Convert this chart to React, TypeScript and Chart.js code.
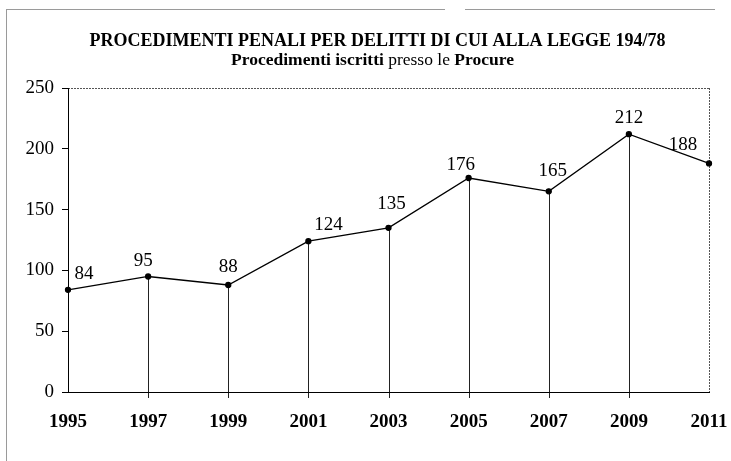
import React, { useEffect, useRef } from "react";
import { Chart, registerables } from "chart.js";

Chart.register(...registerables);

const years = ["1995", "1997", "1999", "2001", "2003", "2005", "2007", "2009", "2011"];
const procedimenti = [84, 95, 88, 124, 135, 176, 165, 212, 188];
const yTicks = [0, 50, 100, 150, 200, 250];

const TITLE = "PROCEDIMENTI PENALI PER DELITTI DI CUI ALLA LEGGE 194/78";
const SUBTITLE_PARTS: [string, boolean][] = [
  ["Procedimenti iscritti", true],
  [" presso le ", false],
  ["Procure", true],
];

const SERIF = "'Liberation Serif', 'Times New Roman', serif";

// label offsets (style only): [dx, dy] relative to point
const labelOffsets: [number, number][] = [
  [16, -16], [-5, -15], [0, -18], [20, -16], [3, -24], [-8, -13], [4, -20], [0, -16], [-26, -18],
];

const decorPlugin = {
  id: "decor",
  beforeDraw(chart: any) {
    const ctx = chart.ctx;
    ctx.save();
    // outer frame (left & top)
    ctx.strokeStyle = "#9a9a9a";
    ctx.lineWidth = 1;
    ctx.beginPath();
    ctx.moveTo(6.5, 9);
    ctx.lineTo(6.5, 461);
    ctx.moveTo(6, 9.5);
    ctx.lineTo(445, 9.5);
    ctx.moveTo(465, 9.5);
    ctx.lineTo(715, 9.5);
    ctx.stroke();

    // title
    ctx.fillStyle = "#000";
    ctx.textAlign = "center";
    ctx.textBaseline = "alphabetic";
    ctx.font = `bold 18px ${SERIF}`;
    ctx.fillText(TITLE, 377.5, 45.5);

    // subtitle with mixed weights
    ctx.textAlign = "left";
    const fonts = SUBTITLE_PARTS.map(([, b]) => `${b ? "bold " : ""}17.5px ${SERIF}`);
    let total = 0;
    const widths = SUBTITLE_PARTS.map(([t], i) => {
      ctx.font = fonts[i];
      const w = ctx.measureText(t).width;
      total += w;
      return w;
    });
    let x = 372.5 - total / 2;
    SUBTITLE_PARTS.forEach(([t], i) => {
      ctx.font = fonts[i];
      ctx.fillText(t, x, 65);
      x += widths[i];
    });

    // plot frame: top & right dotted
    const { left, right, top, bottom } = chart.chartArea;
    ctx.strokeStyle = "#555";
    ctx.setLineDash([2, 1]);
    ctx.beginPath();
    ctx.moveTo(left, top + 0.5);
    ctx.lineTo(right, top + 0.5);
    ctx.moveTo(right + 0.5, top);
    ctx.lineTo(right + 0.5, bottom);
    ctx.stroke();
    ctx.setLineDash([]);

    // drop lines
    const meta = chart.getDatasetMeta(0);
    ctx.strokeStyle = "#222";
    ctx.lineWidth = 1;
    meta.data.forEach((pt: any, i: number) => {
      const px = Math.round(pt.x) + 0.5;
      if (i === 0 || i === meta.data.length - 1) return;
      ctx.beginPath();
      ctx.moveTo(px, pt.y);
      ctx.lineTo(px, bottom + 6);
      ctx.stroke();
    });
    ctx.restore();
  },
  afterDatasetsDraw(chart: any) {
    const ctx = chart.ctx;
    const meta = chart.getDatasetMeta(0);
    const data = chart.data.datasets[0].data;
    ctx.save();
    ctx.fillStyle = "#000";
    ctx.font = `19px ${SERIF}`;
    ctx.textAlign = "center";
    ctx.textBaseline = "middle";
    meta.data.forEach((pt: any, i: number) => {
      const [dx, dy] = labelOffsets[i];
      ctx.fillText(String(data[i]), pt.x + dx, pt.y + dy);
    });
    ctx.restore();
  },
};

export default function App() {
  const ref = useRef<HTMLCanvasElement>(null);
  useEffect(() => {
    if (!ref.current) return;
    const chart = new Chart(ref.current, {
      type: "line",
      data: {
        labels: years,
        datasets: [
          {
            data: procedimenti,
            borderColor: "#000",
            borderWidth: 1.3,
            pointBackgroundColor: "#000",
            pointBorderColor: "#000",
            pointRadius: 2.5,
            tension: 0,
          },
        ],
      },
      options: {
        responsive: false,
        animation: false,
        events: [],
        layout: { padding: { top: 88, right: 22, left: 0, bottom: 0 } },
        plugins: { legend: { display: false }, tooltip: { enabled: false }, title: { display: false } },
        scales: {
          x: {
            offset: false,
            grid: { drawOnChartArea: false, drawTicks: false },
            border: { display: true, color: "#000", width: 1 },
            ticks: {
              color: "#000",
              font: { family: SERIF, size: 19, weight: "bold" },
              padding: 19,
              maxRotation: 0,
            },
            afterFit(scale: any) {
              scale.height = 69;
              scale.paddingLeft = 0;
              scale.paddingRight = 0;
            },
          },
          y: {
            min: 0,
            max: 250,
            afterBuildTicks(scale: any) {
              scale.ticks = yTicks.map((v) => ({ value: v }));
            },
            grid: { drawOnChartArea: false, drawTicks: true, tickLength: 6, color: "#000" },
            border: { display: true, color: "#000", width: 1 },
            ticks: {
              color: "#000",
              font: { family: SERIF, size: 19 },
              padding: 8,
            },
            afterFit(scale: any) {
              scale.width = 68;
              scale.paddingTop = 0;
              scale.paddingBottom = 0;
            },
          },
        },
      },
      plugins: [decorPlugin],
    });
    return () => chart.destroy();
  }, []);
  return (
    <div style={{ position: "absolute", left: 0, top: 0, width: 731, height: 461, background: "#fff" }}>
      <canvas ref={ref} width={731} height={461} />
    </div>
  );
}
